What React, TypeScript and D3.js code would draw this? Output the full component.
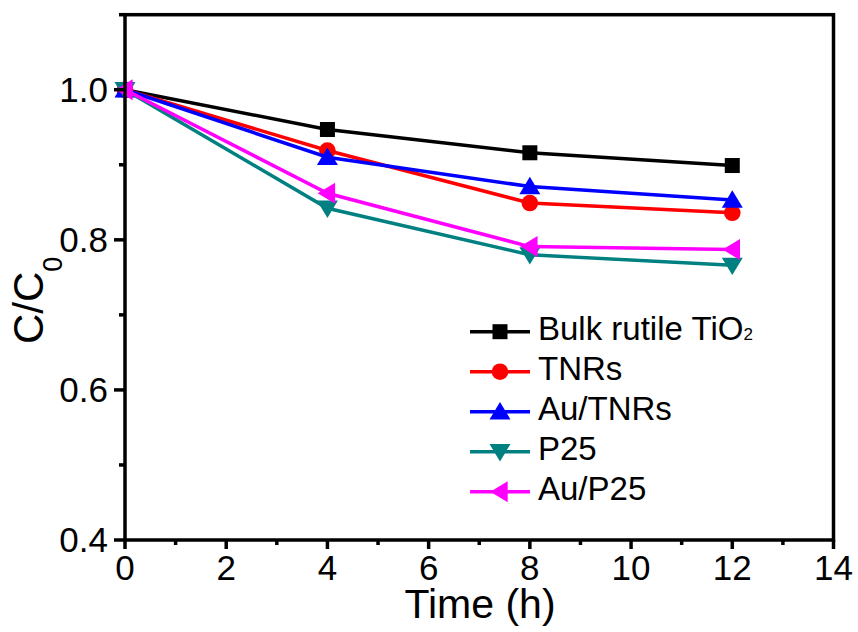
import * as d3 from "d3";

const times = [0, 4, 8, 12];
const bulkRutile = [1.0, 0.947, 0.916, 0.899];
const tnrs = [1.0, 0.919, 0.849, 0.836];
const auTnrs = [1.0, 0.91, 0.871, 0.853];
const p25 = [1.0, 0.842, 0.78, 0.766];
const auP25 = [1.0, 0.862, 0.791, 0.787];

const seriesNames = ["Bulk rutile TiO", "TNRs", "Au/TNRs", "P25", "Au/P25"];
const seriesColors = ["#000000", "#ff0000", "#0000ff", "#008080", "#ff00ff"];
const seriesSymbols = ["square", "circle", "up", "down", "left"];

const xTicks = [0, 2, 4, 6, 8, 10, 12, 14];
const xMinor = [1, 3, 5, 7, 9, 11, 13];
const yTicks = [0.4, 0.6, 0.8, 1.0];
const yMinor = [0.5, 0.7, 0.9, 1.1];

const W = 858;
const H = 632;
const font = "'Liberation Sans', Arial, sans-serif";

const Marker = ({ kind, x, y, color }) => {
  if (kind === "square") return <rect x={x - 7.5} y={y - 7.5} width={15} height={15} fill={color} />;
  if (kind === "circle") return <circle cx={x} cy={y} r={8.3} fill={color} />;
  const s = 10.5;
  const h = 8.7;
  let pts;
  if (kind === "up") pts = [[x, y - h - 1], [x - s, y + h - 1], [x + s, y + h - 1]];
  else if (kind === "down") pts = [[x, y + h + 1], [x - s, y - h + 1], [x + s, y - h + 1]];
  else pts = [[x - h - 1, y], [x + h - 1, y - s], [x + h - 1, y + s]];
  return <polygon points={pts.map(p => p.join(",")).join(" ")} fill={color} />;
};

export default function App() {
  const data = [bulkRutile, tnrs, auTnrs, p25, auP25];

  const xScale = d3.scaleLinear().domain([0, 14]).range([125, 833.5]);
  const yScale = d3.scaleLinear().domain([0.4, 1.1]).range([540, 14.7]);

  const line = d3.line()
    .x((d, i) => xScale(times[i]))
    .y(d => yScale(d));

  const [x0, x1] = xScale.range();
  const [y0, y1] = yScale.range();

  return (
    <svg width={W} height={H} style={{ position: "absolute", left: 0, top: 0 }} fontFamily={font}>
      <rect width={W} height={H} fill="#fff" />

      {/* series */}
      {data.map((vals, si) => (
        <g key={si}>
          <path d={line(vals)} fill="none" stroke={seriesColors[si]} strokeWidth={3.5} />
          {vals.map((v, i) => (
            <Marker key={i} kind={seriesSymbols[si]} x={xScale(times[i])} y={yScale(v)} color={seriesColors[si]} />
          ))}
        </g>
      ))}

      {/* frame */}
      <rect x={x0} y={y1} width={x1 - x0} height={y0 - y1} fill="none" stroke="#000" strokeWidth={3.5} />

      {/* x axis */}
      {xTicks.map(t => (
        <g key={t}>
          <line x1={xScale(t)} x2={xScale(t)} y1={y0} y2={y0 + 9} stroke="#000" strokeWidth={3.5} />
          <text x={xScale(t)} y={580} textAnchor="middle" fontSize={35}>{t}</text>
        </g>
      ))}
      {xMinor.map(t => (
        <line key={t} x1={xScale(t)} x2={xScale(t)} y1={y0} y2={y0 + 5} stroke="#000" strokeWidth={3.5} />
      ))}
      <text x={480} y={618} textAnchor="middle" fontSize={41}>Time (h)</text>

      {/* y axis */}
      {yTicks.map(t => (
        <g key={t}>
          <line x1={x0} x2={x0 - 11} y1={yScale(t)} y2={yScale(t)} stroke="#000" strokeWidth={3.5} />
          <text x={108} y={yScale(t) + 12} textAnchor="end" fontSize={35}>{d3.format(".1f")(t)}</text>
        </g>
      ))}
      {yMinor.map(t => (
        <line key={t} x1={x0} x2={x0 - 6} y1={yScale(t)} y2={yScale(t)} stroke="#000" strokeWidth={3.5} />
      ))}
      <text transform="translate(43,344) rotate(-90)" fontSize={42}>
        C/C<tspan fontSize={27} dy={19}>0</tspan>
      </text>

      {/* legend */}
      {seriesNames.map((name, i) => {
        const cy = 331.7 + i * 40;
        return (
          <g key={name}>
            <line x1={470} x2={530} y1={cy} y2={cy} stroke={seriesColors[i]} strokeWidth={3.5} />
            <Marker kind={seriesSymbols[i]} x={500} y={cy} color={seriesColors[i]} />
            <text x={538} y={cy + 8} fontSize={33}>
              {name}
              {i === 0 ? <tspan fontSize={17}>2</tspan> : null}
            </text>
          </g>
        );
      })}
    </svg>
  );
}
